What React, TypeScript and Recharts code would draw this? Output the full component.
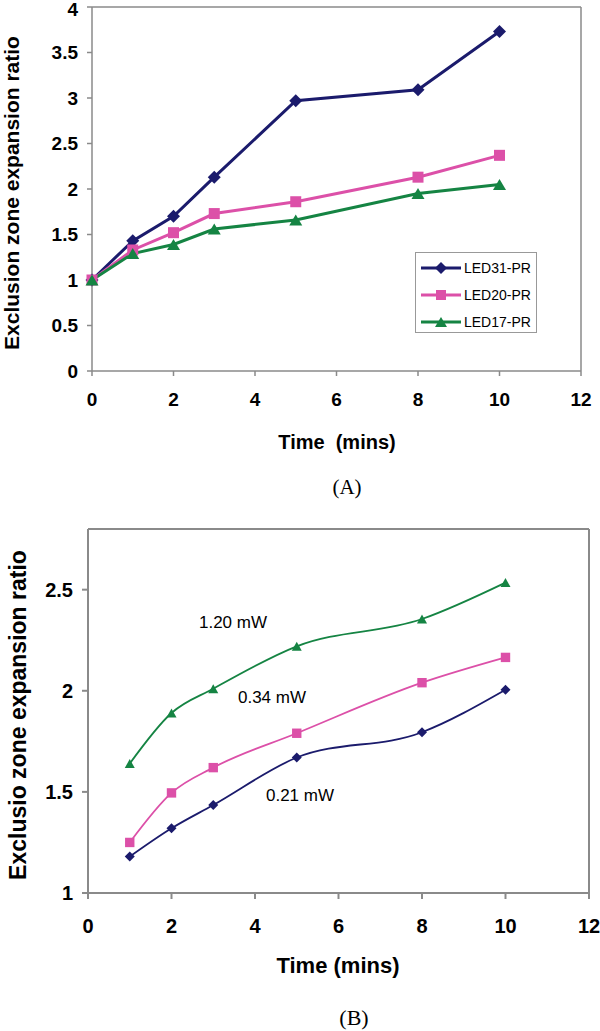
import React from 'react'
import { LineChart, Line, XAxis, YAxis, ReferenceLine } from 'recharts'

// Chart (A): expansion ratio per LED
const timesA = [0, 1, 2, 3, 5, 8, 10]
const led31 = [1, 1.43, 1.7, 2.13, 2.97, 3.09, 3.73]
const led20 = [1, 1.33, 1.52, 1.73, 1.86, 2.13, 2.37]
const led17 = [1, 1.29, 1.39, 1.56, 1.66, 1.95, 2.05]
const ticksAX = [0, 2, 4, 6, 8, 10, 12]
const ticksAY = [0, 0.5, 1, 1.5, 2, 2.5, 3, 3.5, 4]

// Chart (B): expansion ratio per power
const timesB = [1, 2, 3, 5, 8, 10]
const p021 = [1.18, 1.32, 1.435, 1.67, 1.795, 2.005]
const p034 = [1.25, 1.495, 1.62, 1.79, 2.04, 2.165]
const p120 = [1.64, 1.89, 2.01, 2.22, 2.355, 2.535]
const ticksBX = [0, 2, 4, 6, 8, 10, 12]
const ticksBY = [1, 1.5, 2, 2.5]

const NAVY = '#1b1b6c'
const PINK = '#dc50a8'
const GREEN = '#158443'
const AXIS = '#8a8a8a'
const SANS = '"Liberation Sans", Arial, sans-serif'
const SERIF = '"Liberation Serif", "Times New Roman", serif'

const rowsA = timesA.map((t, i) => ({ t, led31: led31[i], led20: led20[i], led17: led17[i] }))
const rowsB = timesB.map((t, i) => ({ t, p021: p021[i], p034: p034[i], p120: p120[i] }))

const diamond = (r: number, color: string) => (p: any) =>
  <path key={p.index} d={`M${p.cx},${p.cy - r}L${p.cx + r},${p.cy}L${p.cx},${p.cy + r}L${p.cx - r},${p.cy}Z`} fill={color} />
const square = (r: number, color: string) => (p: any) =>
  <rect key={p.index} x={p.cx - r} y={p.cy - r} width={2 * r} height={2 * r} fill={color} />
const triangle = (w: number, h: number, color: string) => (p: any) =>
  <path key={p.index} d={`M${p.cx},${p.cy - h / 2}L${p.cx + w / 2},${p.cy + h / 2}L${p.cx - w / 2},${p.cy + h / 2}Z`} fill={color} />

// bold tick labels
const xTick = (size: number) => (p: any) => (
  <text x={p.x} y={p.y} dy="0.71em" textAnchor="middle" fontSize={size} fontWeight={700} fontFamily={SANS} fill="#000">
    {p.payload.value}
  </text>
)
const yTick = (size: number) => (p: any) => (
  <text x={p.x} y={p.y} dy="0.355em" textAnchor="end" fontSize={size} fontWeight={700} fontFamily={SANS} fill="#000">
    {p.payload.value}
  </text>
)

const legendA = [
  { name: 'LED31-PR', color: NAVY, shape: 'diamond' },
  { name: 'LED20-PR', color: PINK, shape: 'square' },
  { name: 'LED17-PR', color: GREEN, shape: 'triangle' },
]

function LegendIcon({ color, shape }: { color: string; shape: string }) {
  return (
    <svg width={42} height={14} style={{ display: 'block' }}>
      <line x1={1} y1={7} x2={41} y2={7} stroke={color} strokeWidth={3} />
      {shape === 'diamond' && <path d="M21,1L27,7L21,13L15,7Z" fill={color} />}
      {shape === 'square' && <rect x={16} y={2} width={10} height={10} fill={color} />}
      {shape === 'triangle' && <path d="M21,2L27,12L15,12Z" fill={color} />}
    </svg>
  )
}

const abs = (x: number, y: number, extra: React.CSSProperties = {}): React.CSSProperties => ({
  position: 'absolute', left: x, top: y, transform: 'translate(-50%, -50%)', whiteSpace: 'pre', lineHeight: 1, ...extra,
})

export default function App() {
  return (
    <div style={{ position: 'absolute', left: 0, top: 0, width: 600, height: 1031, background: '#fff', fontFamily: SANS }}>
      {/* (A) */}
      <div style={{ position: 'absolute', left: 0, top: 0 }}>
        <LineChart width={600} height={480} data={rowsA} margin={{ top: 7, right: 19, bottom: 69, left: 0 }}>
          <XAxis
            dataKey="t" type="number" domain={[0, 12]} ticks={ticksAX} height={40}
            stroke={AXIS} strokeWidth={1.5} tickSize={5} tickMargin={17} tick={xTick(19)}
          />
          <YAxis
            type="number" domain={[0, 4]} ticks={ticksAY} width={92}
            stroke={AXIS} strokeWidth={1.5} tickSize={5} tickMargin={9} tick={yTick(19)}
          />
          <ReferenceLine y={4} stroke={AXIS} strokeWidth={1.5} />
          <ReferenceLine x={12} stroke={AXIS} strokeWidth={1.5} />
          <Line dataKey="led31" stroke={NAVY} strokeWidth={3} dot={diamond(6.5, NAVY)} activeDot={false} isAnimationActive={false} />
          <Line dataKey="led20" stroke={PINK} strokeWidth={3} dot={square(5.5, PINK)} activeDot={false} isAnimationActive={false} />
          <Line dataKey="led17" stroke={GREEN} strokeWidth={3} dot={triangle(13, 11, GREEN)} activeDot={false} isAnimationActive={false} />
        </LineChart>

        <div style={abs(11, 193, { transform: 'translate(-50%, -50%) rotate(-90deg)', fontSize: 21, fontWeight: 'bold' })}>
          Exclusion zone expansion ratio
        </div>
        <div style={abs(337, 442, { fontSize: 20, fontWeight: 'bold' })}>Time  (mins)</div>
        <div style={abs(347, 487, { fontSize: 21, fontFamily: SERIF })}>(A)</div>

        <div style={{ position: 'absolute', left: 415, top: 252, width: 120, height: 79, border: '1px solid #999', background: '#fff' }}>
          {legendA.map((e, i) => (
            <div key={e.name} style={{ position: 'absolute', left: 4, top: 8 + i * 27, display: 'flex', alignItems: 'center' }}>
              <LegendIcon color={e.color} shape={e.shape} />
              <span style={{ fontSize: 14, marginLeft: 2, lineHeight: 1 }}>{e.name}</span>
            </div>
          ))}
        </div>
      </div>

      {/* (B) */}
      <div style={{ position: 'absolute', left: 0, top: 500 }}>
        <LineChart width={600} height={531} data={rowsB} margin={{ top: 29, right: 11, bottom: 98, left: 0 }}>
          <XAxis
            dataKey="t" type="number" domain={[0, 12]} ticks={ticksBX} height={40}
            stroke={AXIS} strokeWidth={2} tickSize={6} tickMargin={20} tick={xTick(20)}
          />
          <YAxis
            type="number" domain={[1, 2.8]} ticks={ticksBY} width={88}
            stroke={AXIS} strokeWidth={2} tickSize={6} tickMargin={9} tick={yTick(20)}
          />
          <ReferenceLine y={2.8} stroke={AXIS} strokeWidth={2} />
          <ReferenceLine x={12} stroke={AXIS} strokeWidth={2} />
          <Line type="monotone" dataKey="p120" stroke={GREEN} strokeWidth={1.8} dot={triangle(10, 9, GREEN)} activeDot={false} isAnimationActive={false} />
          <Line type="monotone" dataKey="p034" stroke={PINK} strokeWidth={1.8} dot={square(4.7, PINK)} activeDot={false} isAnimationActive={false} />
          <Line type="monotone" dataKey="p021" stroke={NAVY} strokeWidth={1.8} dot={diamond(5, NAVY)} activeDot={false} isAnimationActive={false} />
        </LineChart>

        <div style={abs(18, 215, { transform: 'translate(-50%, -50%) rotate(-90deg)', fontSize: 23, fontWeight: 'bold' })}>
          Exclusio zone expansion ratio
        </div>
        <div style={abs(233, 122, { fontSize: 17 })}>1.20 mW</div>
        <div style={abs(272, 197, { fontSize: 17 })}>0.34 mW</div>
        <div style={abs(300, 295, { fontSize: 17 })}>0.21 mW</div>
        <div style={abs(338, 466, { fontSize: 22, fontWeight: 'bold' })}>Time (mins)</div>
        <div style={abs(354, 518, { fontSize: 22, fontFamily: SERIF })}>(B)</div>
      </div>
    </div>
  )
}
